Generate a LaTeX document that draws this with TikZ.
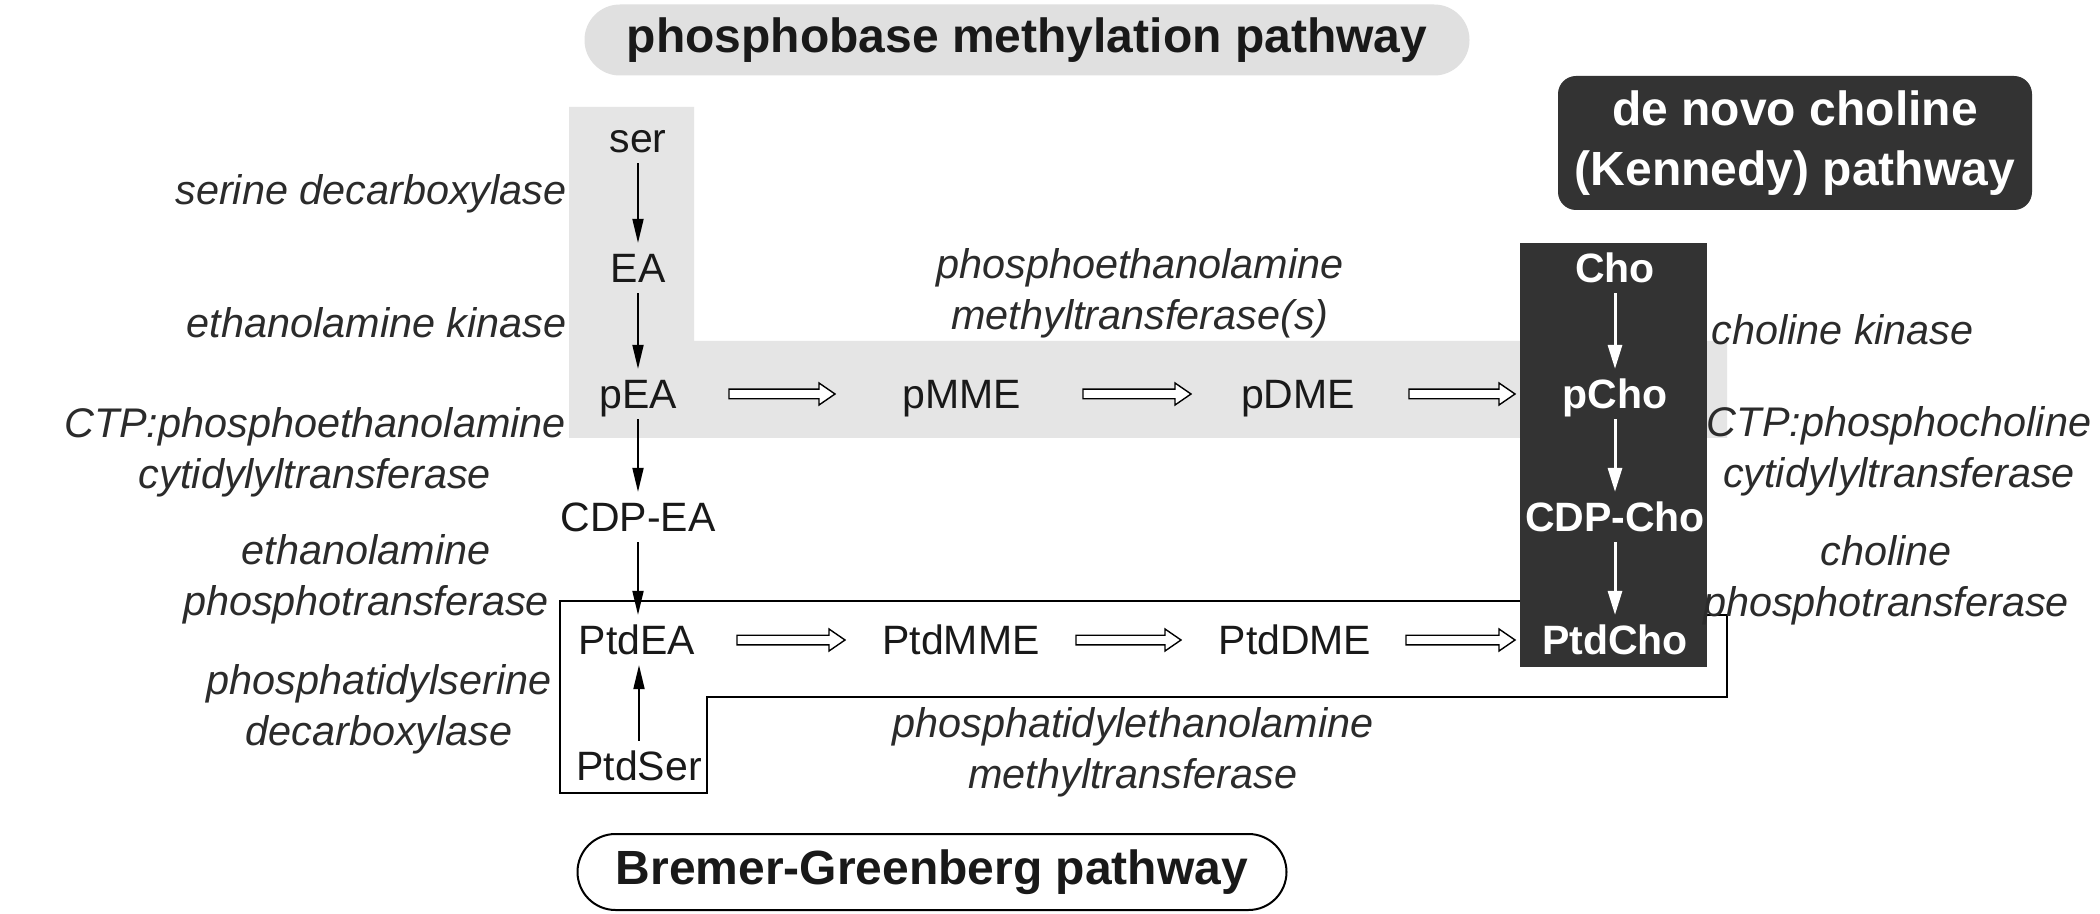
\documentclass[tikz,border=0pt]{standalone}
\usepackage{fontspec}
\setmainfont{Liberation Sans}
\usetikzlibrary{arrows.meta,calc}
\definecolor{lightgr}{gray}{0.9}
\definecolor{pillgr}{gray}{0.88}
\definecolor{darkgr}{gray}{0.2}
\definecolor{labgray}{gray}{0.17}
\definecolor{molblack}{gray}{0.1}
\newcommand{\hollowarr}[2]{%
  \draw[hollowstyle] let \p1=#1, \p2=#2 in
    ({\x1},{\y1+2.4pt}) -- ({\x2-8pt},{\y1+2.4pt}) -- ({\x2-8pt},{\y1+5.5pt}) -- ({\x2},{\y1}) --
    ({\x2-8pt},{\y1-5.5pt}) -- ({\x2-8pt},{\y1-2.4pt}) -- ({\x1},{\y1-2.4pt}) -- cycle;}
\begin{document}
\begin{tikzpicture}[x=0.5pt,y=-0.5pt,
  mol/.style={font=\fontsize{20.5}{24}\selectfont, text=molblack, text height=14.7pt, text depth=0pt, inner xsep=0pt, inner ysep=5pt},
  molw/.style={mol, font=\fontsize{20.5}{24}\selectfont\bfseries, text=white},
  lab/.style={font=\fontsize{20.7}{25.5}\selectfont\itshape, align=center, inner sep=0pt, text=labgray},
  thinarr/.style={line width=0.9pt, -{Triangle[length=12pt,width=5.5pt]}},
  whitearr/.style={line width=1.5pt, color=white, -{Triangle[length=12pt,width=7pt]}},
  hollowstyle/.style={draw=black, line width=0.7pt, fill=white, line join=miter},
  titlefont/.style={font=\fontsize{24}{30}\selectfont\bfseries},
]
\useasboundingbox (0,0) rectangle (2100,914);
\fill[white] (0,0) rectangle (2100,914);

% background regions
\fill[lightgr] (569,107) -- (694,107) -- (694,341) -- (1727,341) -- (1727,438) -- (569,438) -- cycle;
\draw[line width=1pt] (1520,601) -- (560,601) -- (560,793) -- (707,793) -- (707,697) -- (1727,697) -- (1727,615) -- (1707,615);
\fill[darkgr] (1520,243) rectangle (1707,667);

% titles
\node[titlefont, fill=pillgr, minimum width=442.5pt, minimum height=35.5pt, rounded corners=17.7pt, text=molblack] (tpm) at (1027,40) {phosphobase methylation pathway};
\node[titlefont, fill=darkgr, minimum width=237pt, minimum height=67pt, rounded corners=9pt, text=white, align=center, inner sep=0pt] (tken) at (1795,143) {de novo choline\\(Kennedy) pathway};
\node[titlefont, draw=black, line width=1pt, fill=white, minimum width=354.5pt, minimum height=38pt, rounded corners=19pt, text=molblack] (tbg) at (932,872) {Bremer-Greenberg pathway};

% molecules
\node[mol] (ser) at (638,138) {ser};
\node[mol] (EA) at (638,268) {EA};
\node[mol] (pEA) at (638,394) {pEA};
\node[mol] (CDPEA) at (638,517) {CDP-EA};
\node[mol] (PtdEA) at (637,640) {PtdEA};
\node[mol] (PtdSer) at (639,766) {PtdSer};
\node[mol] (pMME) at (962,394) {pMME};
\node[mol] (pDME) at (1298,394) {pDME};
\node[mol] (PtdMME) at (961,640) {PtdMME};
\node[mol] (PtdDME) at (1295,640) {PtdDME};
\node[molw] (Cho) at (1615,268) {Cho};
\node[molw] (pCho) at (1615,394) {pCho};
\node[molw] (CDPCho) at (1615,517) {CDP-Cho};
\node[molw] (PtdCho) at (1615,640) {PtdCho};

% thin arrows
\draw[thinarr] (ser) -- (EA);
\draw[thinarr] (EA) -- (pEA);
\draw[thinarr] (pEA) -- (CDPEA);
\draw[thinarr] (CDPEA.south) -- (CDPEA.south |- PtdEA.north);
\draw[thinarr] (PtdSer.north) -- (PtdSer.north |- PtdEA.south);
\draw[whitearr] (Cho) -- (pCho);
\draw[whitearr] (pCho) -- (CDPCho);
\draw[whitearr] (CDPCho) -- (PtdCho);

% hollow arrows
\hollowarr{($(pEA)+(91,0)$)}{($(pMME)+(-127,0)$)}
\hollowarr{($(pMME)+(121,0)$)}{($(pDME)+(-107,0)$)}
\hollowarr{($(pDME)+(111,0)$)}{($(pCho)+(-100,0)$)}
\hollowarr{($(PtdEA)+(100,0)$)}{($(PtdMME)+(-116,0)$)}
\hollowarr{($(PtdMME)+(115,0)$)}{($(PtdDME)+(-114,0)$)}
\hollowarr{($(PtdDME)+(111,0)$)}{($(PtdCho)+(-100,0)$)}

% enzyme labels
\node[lab, anchor=east] (l1) at (567,194) {serine decarboxylase};
\node[lab, anchor=east] (l2) at (567,323) {ethanolamine kinase};
\node[lab] (l3) at (315,452) {CTP:phosphoethanolamine\\cytidylyltransferase};
\node[lab] (l4) at (366,579) {ethanolamine\\phosphotransferase};
\node[lab] (l5) at (379,709) {phosphatidylserine\\decarboxylase};
\node[lab] (l6) at (1140,293) {phosphoethanolamine\\methyltransferase(s)};
\node[lab, anchor=west] (l7) at (1711,330) {choline kinase};
\node[lab] (l8) at (1899,451) {CTP:phosphocholine\\cytidylyltransferase};
\node[lab] (l9) at (1886,580) {choline\\phosphotransferase};
\node[lab] (l10) at (1133,752) {phosphatidylethanolamine\\methyltransferase};
\end{tikzpicture}
\end{document}
